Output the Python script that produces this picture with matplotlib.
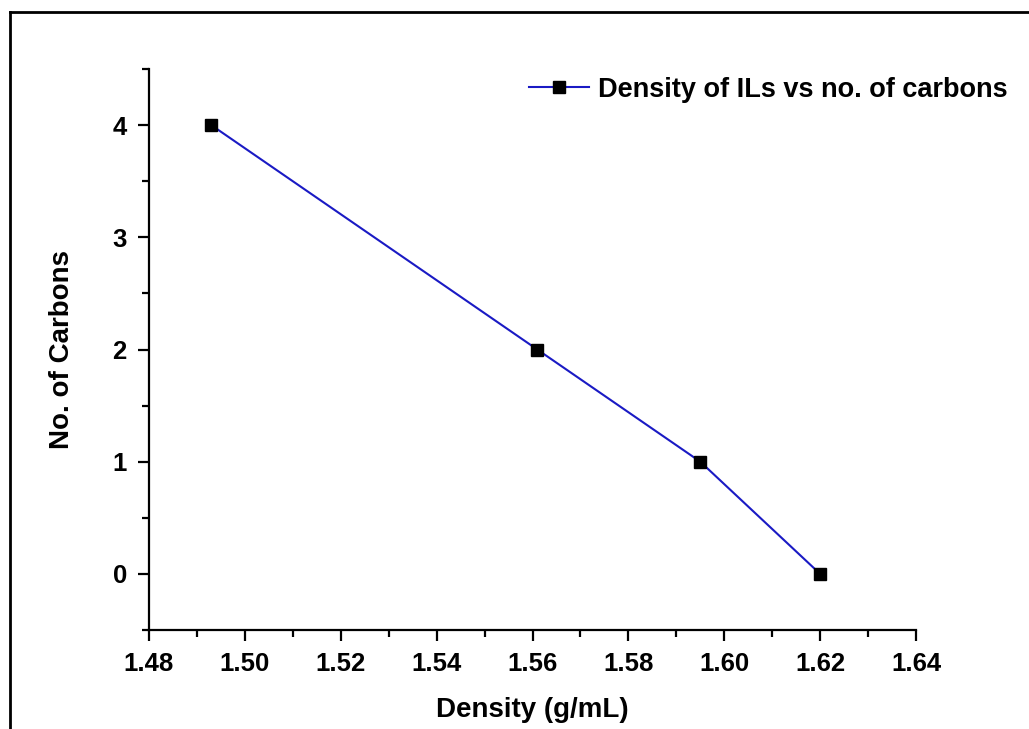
import matplotlib.pyplot as plt
from matplotlib.lines import Line2D
from matplotlib.ticker import MultipleLocator

density = [1.493, 1.561, 1.595, 1.620]
carbons = [4, 2, 1, 0]
label = 'Density of ILs vs no. of carbons'

plt.rcParams['font.family'] = ['Liberation Sans', 'DejaVu Sans']
plt.rcParams['font.weight'] = 'bold'

fig = plt.figure(figsize=(10.29, 7.29), dpi=100)
ax = fig.add_axes([0.1448, 0.1358, 0.7454, 0.7695])

ax.plot(density, carbons, color='#1a1ac4', lw=1.5, marker='s', ms=9,
        mfc='black', mec='black', label=label)

ax.set_xlim(1.48, 1.64)
ax.set_ylim(-0.5, 4.5)
ax.xaxis.set_major_locator(MultipleLocator(0.02))
ax.xaxis.set_minor_locator(MultipleLocator(0.01))
ax.yaxis.set_major_locator(MultipleLocator(1))
ax.yaxis.set_minor_locator(MultipleLocator(0.5))
ax.xaxis.set_major_formatter(plt.FormatStrFormatter('%.2f'))

for s in ['top', 'right']:
    ax.spines[s].set_visible(False)
for s in ['left', 'bottom']:
    ax.spines[s].set_linewidth(1.6)

ax.tick_params(which='major', direction='out', length=8, width=1.6, labelsize=18.5, pad=8)
ax.tick_params(which='minor', direction='out', length=5, width=1.6)

ax.set_xlabel('Density (g/mL)', fontsize=20, fontweight='bold', labelpad=15)
ax.set_ylabel('No. of Carbons', fontsize=20, fontweight='bold', labelpad=27)

ax.legend(loc='center right', bbox_to_anchor=(0.9796, 0.877), bbox_transform=fig.transFigure,
          frameon=False, fontsize=19.5, handlelength=2.2, handletextpad=0.35,
          borderpad=0, borderaxespad=0)

# outer frame (left and top edges only visible)
fig.add_artist(Line2D([0.0097, 0.0097], [0.0, 0.9835], transform=fig.transFigure, color='black', lw=2))
fig.add_artist(Line2D([0.0097, 1.0], [0.9835, 0.9835], transform=fig.transFigure, color='black', lw=2))

fig.savefig('out.png', dpi=100)
